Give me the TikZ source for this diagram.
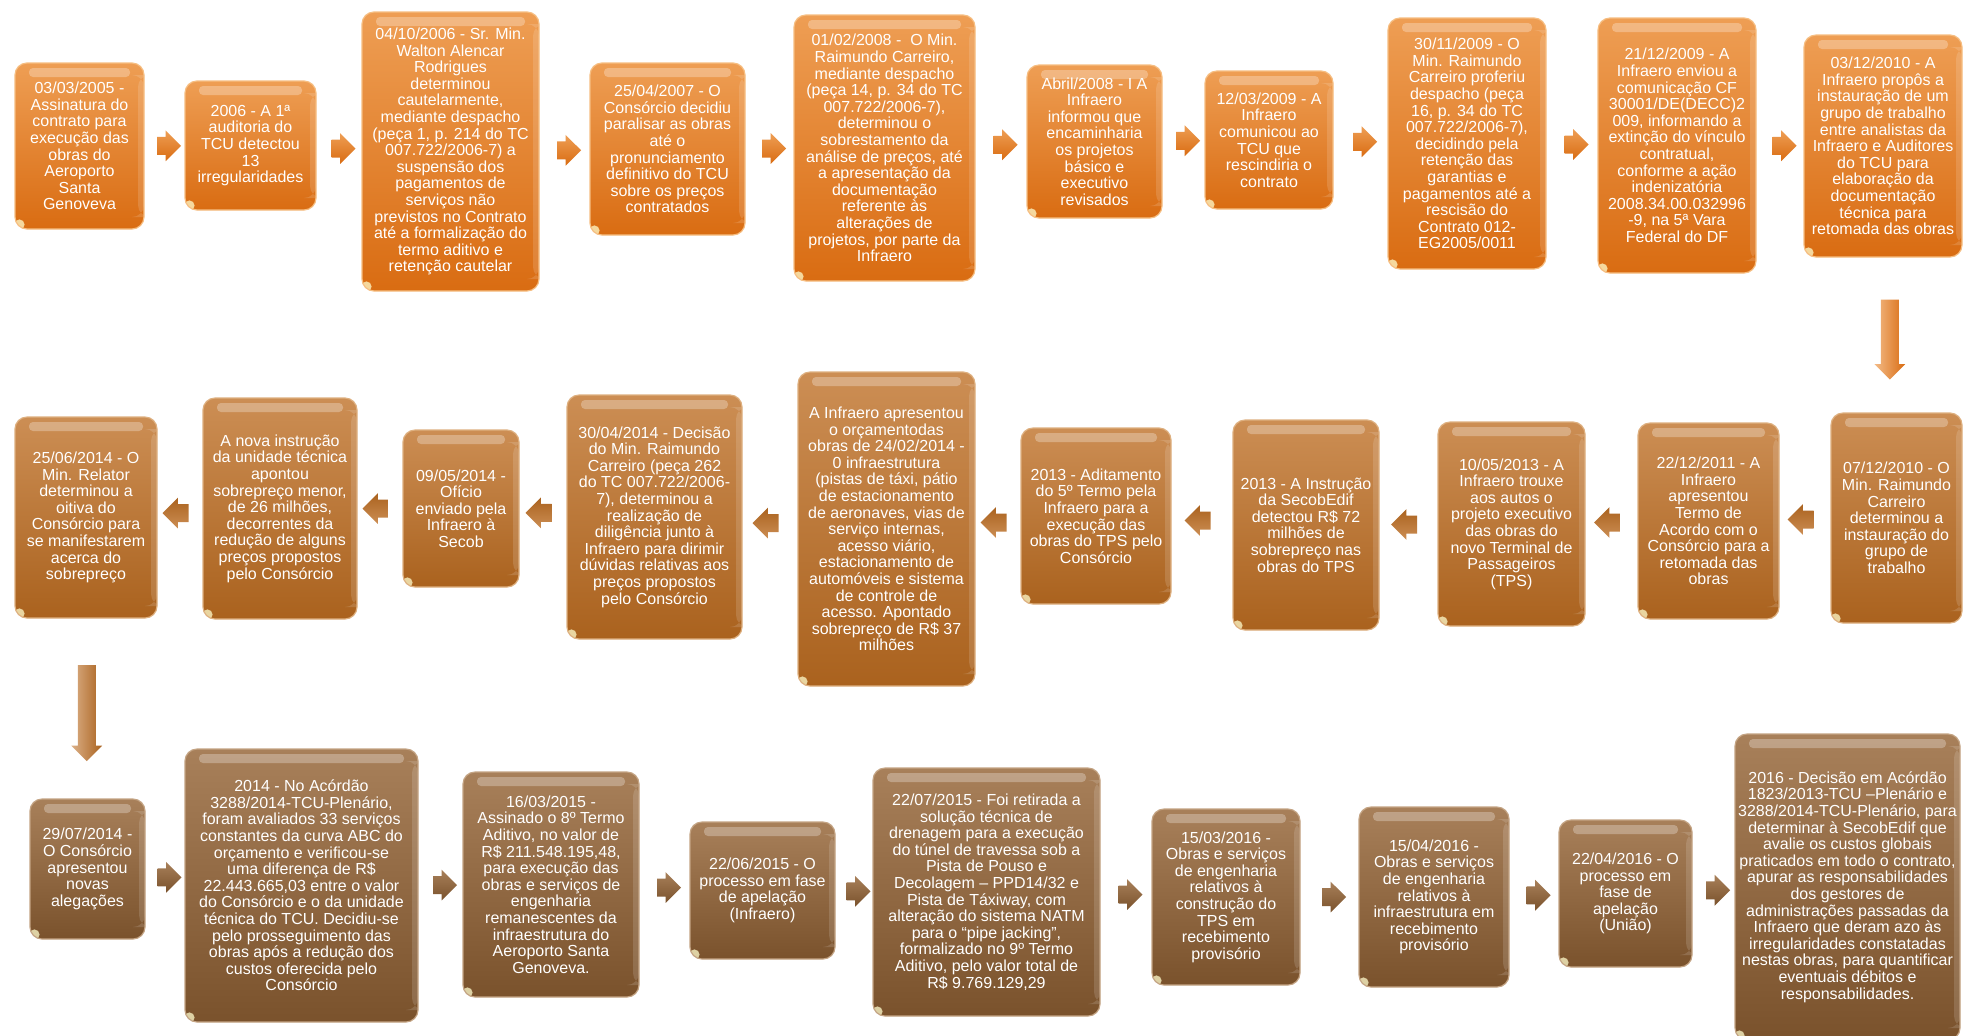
\documentclass[tikz,border=0pt]{standalone}
\usepackage{fontspec}
\setmainfont{Liberation Sans}
\usetikzlibrary{shapes.arrows,calc}
\definecolor{oT}{RGB}{238,158,84}
\definecolor{oB}{RGB}{217,108,18}
\definecolor{oL}{RGB}{246,190,130}
\definecolor{mT}{RGB}{204,142,84}
\definecolor{mB}{RGB}{170,98,30}
\definecolor{mL}{RGB}{222,176,128}
\definecolor{bT}{RGB}{168,128,90}
\definecolor{bB}{RGB}{122,82,44}
\definecolor{bL}{RGB}{196,164,132}
\newcommand\evbox[7]{%
  \pgfmathsetlengthmacro\evbw{(#5-#3)*0.5pt}%
  \pgfmathsetlengthmacro\evbh{(#6-#4)*0.5pt}%
  \node[#2, minimum width=\evbw, minimum height=\evbh] (#1) at ({(#3+#5)/2},{(#4+#6)/2}) {};
  \node[evtext] (#1t) at (#1.center) {#7};}
\tikzset{
  gloss/.style={path picture={
    \fill[white,opacity=0.28,rounded corners=2pt] ([xshift=7pt,yshift=-2.5pt]path picture bounding box.north west) rectangle ([xshift=-7pt,yshift=-7pt]path picture bounding box.north east);
    \fill[white,opacity=0.14] ([xshift=-3pt,yshift=-6pt]path picture bounding box.north east) rectangle ([yshift=6pt]path picture bounding box.south east);
    \fill[white!80!yellow,opacity=0.75] ([xshift=2.2pt,yshift=2.2pt]path picture bounding box.south west) circle (2.6pt);
  }},
  boxbase/.style={rectangle, rounded corners=6pt, inner sep=0pt, line width=0.6pt, gloss},
  rowA/.style={boxbase, top color=oT, bottom color=oB, draw=oL},
  rowB/.style={boxbase, top color=mT, bottom color=mB, draw=mL},
  rowC/.style={boxbase, top color=bT, bottom color=bB, draw=bL},
  evtext/.style={text=white, align=center, inner sep=0pt, font=\fontsize{8}{8.3}\selectfont},
  arrbase/.style={single arrow, single arrow head extend=3.2pt, minimum height=12pt,
     inner xsep=0pt, inner ysep=4.3pt, text height=0pt, text depth=0pt, text width=0pt},
  arrA/.style={arrbase, top color=oT, bottom color=oB},
  arrB/.style={arrbase, top color=mB, bottom color=mT, rotate=180, minimum height=13pt},
  arrC/.style={arrbase, top color=bT, bottom color=bB},
  arrD/.style={arrbase, rotate=-90, left color=#1T!70!white, right color=#1B},
}
\begin{document}
\begin{tikzpicture}[x=0.5pt,y=-0.5pt]
\useasboundingbox (0,0) rectangle (1964,1035);
\fill[white] (0,0) rectangle (1964,1035);
% ---------- row 1 ----------
\evbox{n1}{rowA}{15}{63}{144}{229}{03/03/2005 -\\Assinatura do\\contrato para\\execução das\\obras do\\Aeroporto\\Santa\\Genoveva}
\evbox{n2}{rowA}{185}{81}{316}{210}{2006 - A 1ª\\auditoria do\\TCU detectou\\13\\irregularidades}
\evbox{n3}{rowA}{362}{12}{539}{291}{04/10/2006 - Sr. Min.\\Walton Alencar\\Rodrigues\\determinou\\cautelarmente,\\mediante despacho\\(peça 1, p. 214 do TC\\007.722/2006-7) a\\suspensão dos\\pagamentos de\\serviços não\\previstos no Contrato\\até a formalização do\\termo aditivo e\\retenção cautelar}
\evbox{n4}{rowA}{590}{63}{745}{235}{25/04/2007 - O\\Consórcio decidiu\\paralisar as obras\\até o\\pronunciamento\\definitivo do TCU\\sobre os preços\\contratados}
\evbox{n5}{rowA}{794}{15}{975}{281}{01/02/2008 -~ O Min.\\Raimundo Carreiro,\\mediante despacho\\(peça 14, p. 34 do TC\\007.722/2006-7),\\determinou o\\sobrestamento da\\análise de preços, até\\a apresentação da\\documentação\\referente às\\alterações de\\projetos, por parte da\\Infraero}
\evbox{n6}{rowA}{1027}{65}{1162}{218}{Abril/2008 - I A\\Infraero\\informou que\\encaminharia\\os projetos\\básico e\\executivo\\revisados}
\evbox{n7}{rowA}{1205}{71}{1333}{209}{12/03/2009 - A\\Infraero\\comunicou ao\\TCU que\\rescindiria o\\contrato}
\evbox{n8}{rowA}{1388}{18}{1546}{269}{30/11/2009 - O\\Min. Raimundo\\Carreiro proferiu\\despacho (peça\\16, p. 34 do TC\\007.722/2006-7),\\decidindo pela\\retenção das\\garantias e\\pagamentos até a\\rescisão do\\Contrato 012-\\EG2005/0011}
\evbox{n9}{rowA}{1598}{18}{1756}{273}{21/12/2009 - A\\Infraero enviou a\\comunicação CF\\30001/DE(DECC)2\\009, informando a\\extinção do vínculo\\contratual,\\conforme a ação\\indenizatória\\2008.34.00.032996\\-9, na 5ª Vara\\Federal do DF}
\evbox{n10}{rowA}{1804}{35}{1962}{257}{03/12/2010 - A\\Infraero propôs a\\instauração de um\\grupo de trabalho\\entre analistas da\\Infraero e Auditores\\do TCU para\\elaboração da\\documentação\\técnica para\\retomada das obras}
% ---------- row 2 ----------
\evbox{n11}{rowB}{1831}{413}{1962}{623}{07/12/2010 - O\\Min. Raimundo\\Carreiro\\determinou a\\instauração do\\grupo de\\trabalho}
\evbox{n12}{rowB}{1638}{423}{1779}{619}{22/12/2011 - A\\Infraero\\apresentou\\Termo de\\Acordo com o\\Consórcio para a\\retomada das\\obras}
\evbox{n13}{rowB}{1438}{422}{1585}{626}{10/05/2013 - A\\Infraero trouxe\\aos autos o\\projeto executivo\\das obras do\\novo Terminal de\\Passageiros\\(TPS)}
\evbox{n14}{rowB}{1233}{420}{1379}{630}{2013 - A Instrução\\da SecobEdif\\detectou R\$ 72\\milhões de\\sobrepreço nas\\obras do TPS}
\evbox{n15}{rowB}{1021}{428}{1171}{604}{2013 - Aditamento\\do 5º Termo pela\\Infraero para a\\execução das\\obras do TPS pelo\\Consórcio}
\evbox{n16}{rowB}{798}{372}{975}{686}{A Infraero apresentou\\o orçamentodas\\obras de 24/02/2014 -\\0 infraestrutura\\(pistas de táxi, pátio\\de estacionamento\\de aeronaves, vias de\\serviço internas,\\acesso viário,\\estacionamento de\\automóveis e sistema\\de controle de\\acesso. Apontado\\sobrepreço de R\$ 37\\milhões}
\evbox{n17}{rowB}{567}{395}{742}{639}{30/04/2014 - Decisão\\do Min. Raimundo\\Carreiro (peça 262\\do TC 007.722/2006-\\7), determinou a\\realização de\\diligência junto à\\Infraero para dirimir\\dúvidas relativas aos\\preços propostos\\pelo Consórcio}
\evbox{n18}{rowB}{403}{430}{519}{587}{09/05/2014 -\\Ofício\\enviado pela\\Infraero à\\Secob}
\evbox{n19}{rowB}{203}{398}{357}{619}{A nova instrução\\da unidade técnica\\apontou\\sobrepreço menor,\\de 26 milhões,\\decorrentes da\\redução de alguns\\preços propostos\\pelo Consórcio}
\evbox{n20}{rowB}{15}{417}{157}{618}{25/06/2014 - O\\Min. Relator\\determinou a\\oitiva do\\Consórcio para\\se manifestarem\\acerca do\\sobrepreço}
% ---------- row 3 ----------
\evbox{n21}{rowC}{30}{799}{145}{939}{29/07/2014 -\\O Consórcio\\apresentou\\novas\\alegações}
\evbox{n22}{rowC}{185}{749}{418}{1022}{2014 - No Acórdão\\3288/2014-TCU-Plenário,\\foram avaliados 33 serviços\\constantes da curva ABC do\\orçamento e verificou-se\\uma diferença de R\$\\22.443.665,03 entre o valor\\do Consórcio e o da unidade\\técnica do TCU. Decidiu-se\\pelo prosseguimento das\\obras após a redução dos\\custos oferecida pelo\\Consórcio}
\evbox{n23}{rowC}{463}{772}{639}{997}{16/03/2015 -\\Assinado o 8º Termo\\Aditivo, no valor de\\R\$ 211.548.195,48,\\para execução das\\obras e serviços de\\engenharia\\remanescentes da\\infraestrutura do\\Aeroporto Santa\\Genoveva.}
\evbox{n24}{rowC}{690}{822}{835}{959}{22/06/2015 - O\\processo em fase\\de apelação\\(Infraero)}
\evbox{n25}{rowC}{873}{768}{1100}{1016}{22/07/2015 - Foi retirada a\\solução técnica de\\drenagem para a execução\\do túnel de travessa sob a\\Pista de Pouso e\\Decolagem – PPD14/32 e\\Pista de Táxiway, com\\alteração do sistema NATM\\para o “pipe jacking”,\\formalizado no 9º Termo\\Aditivo, pelo valor total de\\R\$ 9.769.129,29}
\evbox{n26}{rowC}{1152}{809}{1300}{985}{15/03/2016 -\\Obras e serviços\\de engenharia\\relativos à\\construção do\\TPS em\\recebimento\\provisório}
\evbox{n27}{rowC}{1359}{807}{1509}{987}{15/04/2016 -\\Obras e serviços\\de engenharia\\relativos à\\infraestrutura em\\recebimento\\provisório}
\evbox{n28}{rowC}{1559}{820}{1692}{967}{22/04/2016 - O\\processo em\\fase de\\apelação\\(União)}
\evbox{n29}{rowC}{1735}{734}{1960}{1040}{2016 - Decisão em Acórdão\\1823/2013-TCU –Plenário e\\3288/2014-TCU-Plenário, para\\determinar à SecobEdif que\\avalie os custos globais\\praticados em todo o contrato,\\apurar as responsabilidades\\dos gestores de\\administrações passadas da\\Infraero que deram azo às\\irregularidades constatadas\\nestas obras, para quantificar\\eventuais débitos e\\responsabilidades.}
% ---------- arrows row 1 ----------
\foreach \a/\b in {n1/n2,n2/n3,n3/n4,n4/n5,n5/n6,n6/n7,n7/n8,n8/n9,n9/n10}
  \node[arrA] (ar-\a) at ($(\a.east)!0.5!(\b.west)$) {};
\node[arrD=o, minimum height=40pt] (ad1) at ($(n10.south)!0.5!(n11.north)$) {};
% ---------- arrows row 2 ----------
\foreach \a/\b in {n11/n12,n12/n13,n13/n14,n14/n15,n15/n16,n16/n17,n17/n18,n18/n19,n19/n20}
  \node[arrB] (ar-\a) at ($(\a.west)!0.5!(\b.east)$) {};
\node[arrD=m, minimum height=48pt] (ad2) at ($(n20.south)!0.5!(n21.north)$) {};
% ---------- arrows row 3 ----------
\foreach \a/\b in {n21/n22,n22/n23,n23/n24,n24/n25,n25/n26,n26/n27,n27/n28,n28/n29}
  \node[arrC] (ar-\a) at ($(\a.east)!0.5!(\b.west)$) {};
\end{tikzpicture}
\end{document}
